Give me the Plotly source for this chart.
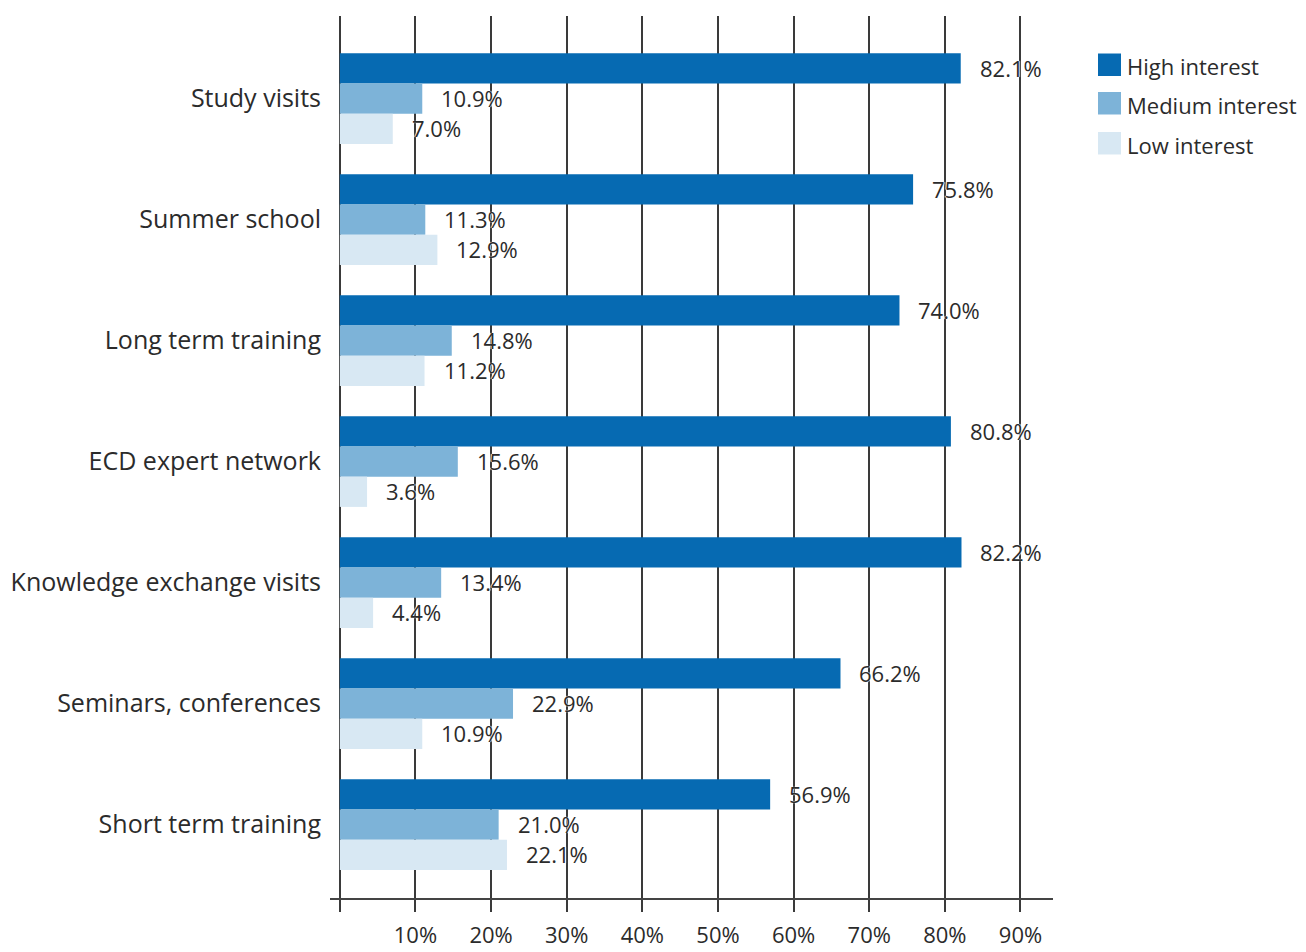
import plotly.graph_objects as go

categories = ["Study visits", "Summer school", "Long term training", "ECD expert network",
              "Knowledge exchange visits", "Seminars, conferences", "Short term training"]
high = [82.1, 75.8, 74.0, 80.8, 82.2, 66.2, 56.9]
medium = [10.9, 11.3, 14.8, 15.6, 13.4, 22.9, 21.0]
low = [7.0, 12.9, 11.2, 3.6, 4.4, 10.9, 22.1]
series_names = ["High interest", "Medium interest", "Low interest"]
colors = ["#066ab2", "#7db3d8", "#d8e8f3"]
tick_vals = [0, 10, 20, 30, 40, 50, 60, 70, 80, 90]
tick_text = ["", "10%", "20%", "30%", "40%", "50%", "60%", "70%", "80%", "90%"]

TEXT = "#2b2b2b"
FONT = "Open Sans"

fig = go.Figure()
for name, vals, col in zip(series_names, [high, medium, low], colors):
    fig.add_trace(go.Bar(y=categories, x=vals, name=name, orientation="h",
                         marker=dict(color=col, line=dict(width=0)), showlegend=False))

# value labels
shifts = [30, 0, -30]
for vals, ys in zip([high, medium, low], shifts):
    for c, v in zip(categories, vals):
        fig.add_annotation(x=v, y=c, text=f"{v:.1f}%", showarrow=False, xanchor="left",
                           xshift=17, yshift=ys + 1,
                           font=dict(family=FONT, size=22, color=TEXT,
                                     shadow="1px 0 1px #fff, -1px 0 1px #fff"))

# manual legend (pixel positions converted to paper fractions of the plot area)
W, H = 723.0, 882.0
def px_x(p):
    return (p - 330) / W
def px_y(p):
    return (898 - p) / H
leg_tops = [53.5, 92, 132]
for name, col, top in zip(series_names, colors, leg_tops):
    fig.add_shape(type="rect", xref="paper", yref="paper",
                  x0=px_x(1098), x1=px_x(1121), y0=px_y(top + 22.5), y1=px_y(top),
                  fillcolor=col, line=dict(width=0))
    fig.add_annotation(xref="paper", yref="paper", x=px_x(1125), y=px_y(top + 13),
                       text=name, showarrow=False, xanchor="left", yanchor="middle",
                       font=dict(family=FONT, size=22, color=TEXT))

fig.update_layout(
    width=1298, height=944,
    margin=dict(l=322, r=253, t=8, b=54, autoexpand=False),
    paper_bgcolor="white", plot_bgcolor="white",
    barmode="group", bargap=0.25, bargroupgap=0,
    font=dict(family=FONT, color=TEXT),
    xaxis=dict(range=[-1.3, 94.3], tickvals=tick_vals, ticktext=tick_text,
               showgrid=True, gridcolor="#3a3a3a", gridwidth=1.5,
               zeroline=False, showline=True, linecolor="#444444", linewidth=2,
               ticks="outside", ticklen=12, tickwidth=1.5, tickcolor="#3a3a3a",
               ticklabelstandoff=5, automargin=False,
               tickfont=dict(family=FONT, size=22, color=TEXT)),
    yaxis=dict(type="category", categoryorder="array", categoryarray=categories,
               range=[6.607, -0.682], showgrid=False, zeroline=False, showline=False,
               ticks="", ticklabelstandoff=8, automargin=False,
               tickfont=dict(family=FONT, size=25, color=TEXT)),
)

fig.write_html("out.html")
